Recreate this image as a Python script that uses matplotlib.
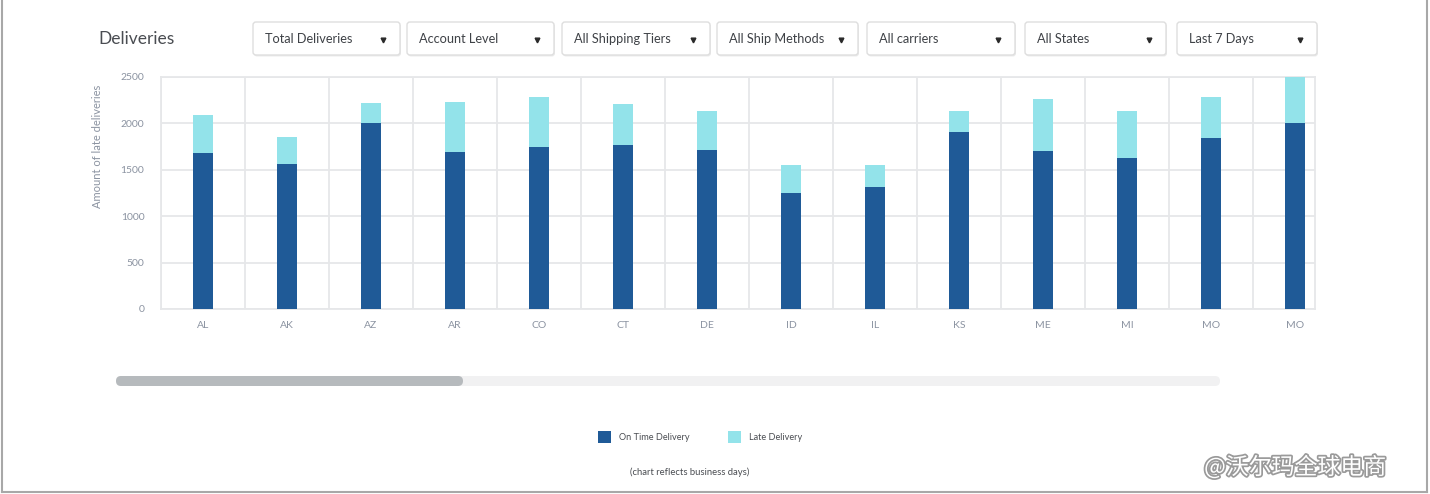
import matplotlib
matplotlib.use("Agg")
import matplotlib.pyplot as plt
import matplotlib.patheffects as pe
from matplotlib.patches import FancyBboxPatch
import numpy as np

plt.rcParams['font.family'] = ['Lato', 'DejaVu Sans']

# ---------------- data ----------------
states = ["AL", "AK", "AZ", "AR", "CO", "CT", "DE", "ID", "IL", "KS", "ME", "MI", "MO", "MO"]
on_time = [1680, 1560, 2000, 1690, 1750, 1770, 1710, 1250, 1320, 1910, 1700, 1630, 1840, 2000]
late = [410, 290, 220, 540, 530, 440, 420, 300, 230, 220, 560, 500, 440, 500]
y_ticks = [0, 500, 1000, 1500, 2000, 2500]
filters = ["Total Deliveries", "Account Level", "All Shipping Tiers", "All Ship Methods",
           "All carriers", "All States", "Last 7 Days"]
series_names = ["On Time Delivery", "Late Delivery"]

# ---------------- style ----------------
DARK = "#1f5a97"
LIGHT = "#93e3ea"
GRID = "#e6e7e9"
TXT = "#8b93a1"

W, H = 1430, 494
fig = plt.figure(figsize=(W / 100, H / 100), dpi=100)
fig.patch.set_facecolor("white")

def fx(px):
    return px / W

def fy(py):
    return 1 - py / H

# main axes
left, right, top, bottom = 161, 1315, 77, 309
ax = fig.add_axes([fx(left), fy(bottom), fx(right - left), (bottom - top) / H])
x = np.arange(len(states))
b1 = ax.bar(x, on_time, width=0.24, color=DARK, label=series_names[0], zorder=3)
b2 = ax.bar(x, late, bottom=on_time, width=0.24, color=LIGHT, label=series_names[1], zorder=3)

band = (right - left) / 84.0
ax.set_xlim(-0.5, -0.5 + band)
ax.set_ylim(0, 2500)
ax.set_yticks(y_ticks)
ax.set_yticklabels([str(v) for v in y_ticks])
ax.set_xticks(x)
ax.set_xticklabels(states)
ax.set_xticks(np.arange(-0.5, len(states) - 0.5, 1.0), minor=True)
ax.grid(axis="y", which="major", color=GRID, lw=1.3, zorder=0)
ax.grid(axis="x", which="minor", color=GRID, lw=1.3, zorder=0)
ax.grid(axis="x", which="major", visible=False)
ax.tick_params(axis="both", which="both", length=0, colors=TXT, labelsize=7.5)
ax.tick_params(axis="x", pad=9)
ax.tick_params(axis="y", pad=12)
for s in ax.spines.values():
    s.set_color(GRID)
    s.set_linewidth(1.3)
ax.set_ylabel("Amount of late deliveries", color=TXT, fontsize=8)
ax.yaxis.set_label_coords(-0.05, 0.70)

# overlay for UI pieces in pixel coords
ov = fig.add_axes([0, 0, 1, 1], zorder=-1)
ov.set_xlim(0, W)
ov.set_ylim(H, 0)
ov.axis("off")

ov.text(98, 39, "Deliveries", fontsize=12.5, color="#4a4d52", va="center", ha="left")

boxes = [(253, 400), (407, 554), (562, 710), (717, 858), (867, 1015), (1025, 1166), (1177, 1317)]
for (x0, x1), label in zip(boxes, filters):
    shadow = FancyBboxPatch((x0 + 1, 22 + 1.5), x1 - x0, 33,
                            boxstyle="round,pad=0,rounding_size=3",
                            fc="#ececec", ec="none", zorder=1)
    ov.add_patch(shadow)
    p = FancyBboxPatch((x0, 22), x1 - x0, 33, boxstyle="round,pad=0,rounding_size=3",
                       fc="white", ec="#dedede", lw=1.0, zorder=2)
    ov.add_patch(p)
    ov.text(x0 + 12, 39, label, fontsize=9.2, color="#3f4247", va="center", ha="left", zorder=3)
    ov.plot([x1 - 17], [40], marker="v", ms=3.4, color="#2a2a2a", zorder=3)

# scrollbar
track = FancyBboxPatch((116, 376), 1104, 10, boxstyle="round,pad=0,rounding_size=5",
                       fc="#f1f1f2", ec="none")
thumb = FancyBboxPatch((116, 376), 347, 10, boxstyle="round,pad=0,rounding_size=5",
                       fc="#b6babd", ec="none")
ov.add_patch(track)
ov.add_patch(thumb)

# legend
fig.legend(handles=[b1, b2], labels=series_names, loc="center",
           bbox_to_anchor=(fx(700), fy(437)), ncol=2, frameon=False,
           fontsize=6.6, handlelength=1.4, handleheight=1.5, handletextpad=0.9,
           columnspacing=4.2, labelcolor="#4a4d52")

ov.text(690, 472, "(chart reflects business days)", fontsize=6.8, color="#4a4d52",
        ha="center", va="center")

# watermark
ov.text(1295, 467, "@沃尔玛全球电商", fontsize=16.5, color="white", ha="center", va="center",
        family=["Noto Sans CJK SC", "DejaVu Sans"],
        path_effects=[pe.withStroke(linewidth=2.5, foreground="#9a9a9a")])

# frame
ov.plot([1.5, 1.5], [0, 492], color="#a8a8a8", lw=1.5)
ov.plot([1427, 1427], [0, 492], color="#a8a8a8", lw=1.5)
ov.plot([1.5, 1427], [492, 492], color="#a8a8a8", lw=1.5)

fig.savefig("out.png", dpi=100, facecolor="white")
